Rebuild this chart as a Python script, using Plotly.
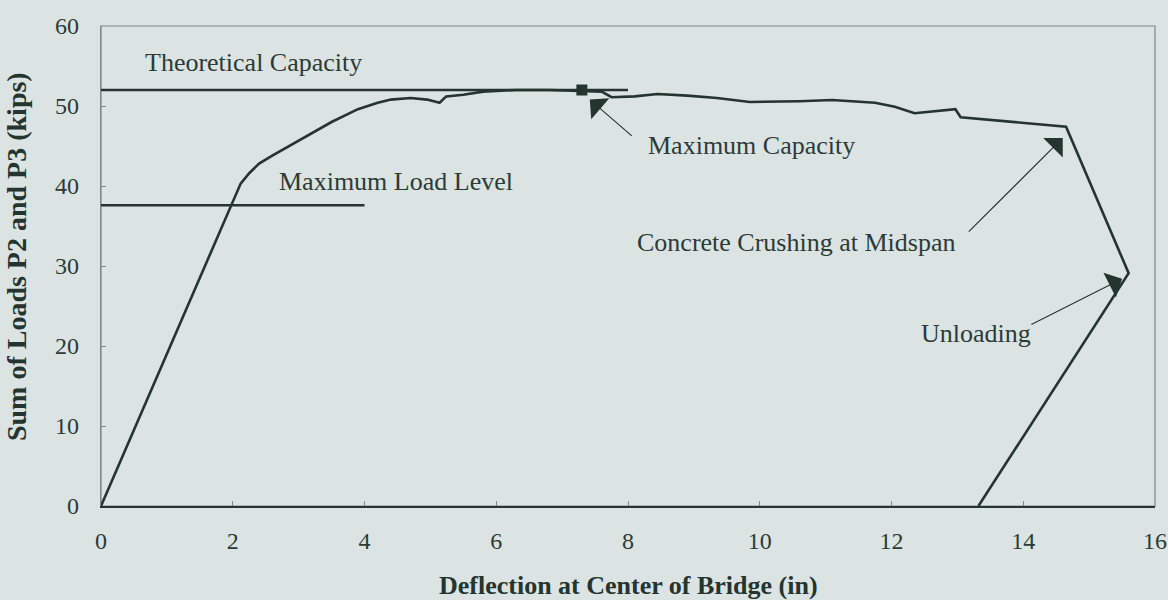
import plotly.graph_objects as go

# Load-deflection response of the bridge test
deflection = [0, 2.12, 2.25, 2.4, 2.6, 2.9, 3.15, 3.5, 3.9, 4.2, 4.4, 4.7, 4.95,
              5.14, 5.24, 5.5, 5.8, 6.3, 6.8, 7.3, 7.6, 7.75, 8.1, 8.45, 8.9,
              9.35, 9.85, 10.6, 11.1, 11.75, 12.05, 12.35, 12.97, 13.05, 14.65,
              15.6, 13.32]
load = [0, 40.3, 41.6, 42.8, 43.8, 45.2, 46.4, 48.0, 49.6, 50.4, 50.8, 51.0, 50.8,
        50.4, 51.2, 51.4, 51.8, 52.0, 52.0, 51.9, 51.8, 51.1, 51.2, 51.5, 51.3,
        51.0, 50.5, 50.6, 50.75, 50.4, 49.9, 49.1, 49.6, 48.6, 47.4,
        29.1, 0]

theoretical_x = [0, 8]
theoretical_y = [52, 52]

max_load_x = [0, 4]
max_load_y = [37.6, 37.6]

peak_x = [7.3]
peak_y = [52]

x_ticks = [0, 2, 4, 6, 8, 10, 12, 14, 16]
y_ticks = [0, 10, 20, 30, 40, 50, 60]

BG = "#dce3e3"
INK = "#24342f"
TEXT = "#2b3b36"
FRAME = "#7d8986"
SERIF = "Liberation Serif, Times New Roman, serif"

fig = go.Figure()

fig.add_trace(go.Scatter(x=theoretical_x, y=theoretical_y, mode="lines",
                         line=dict(color=INK, width=2.6), hoverinfo="skip"))
fig.add_trace(go.Scatter(x=max_load_x, y=max_load_y, mode="lines",
                         line=dict(color=INK, width=2.6), hoverinfo="skip"))
fig.add_trace(go.Scatter(x=deflection, y=load, mode="lines",
                         line=dict(color=INK, width=2.6)))
fig.add_trace(go.Scatter(x=peak_x, y=peak_y, mode="markers",
                         marker=dict(symbol="square", size=11, color=INK)))

# plot frame
fig.add_shape(type="rect", xref="paper", yref="paper", x0=0, y0=0, x1=1, y1=1,
              line=dict(color=FRAME, width=1.2), layer="below")

labels = [
    ("Theoretical Capacity", 2.32, 55.5),
    ("Maximum Load Level", 4.48, 40.6),
    ("Maximum Capacity", 9.87, 45.1),
    ("Concrete Crushing at Midspan", 10.55, 32.9),
    ("Unloading", 13.28, 21.6),
]
for txt, lx, ly in labels:
    fig.add_annotation(x=lx, y=ly, text=txt, showarrow=False,
                       font=dict(family=SERIF, size=26, color=TEXT))

arrows = [
    (7.42, 50.8, 8.08, 46.1),
    (14.6, 46.0, 13.15, 34.1),
    (15.5, 28.4, 14.1, 22.6),
]
for tx, ty, sx, sy in arrows:
    fig.add_annotation(x=tx, y=ty, ax=sx, ay=sy, axref="x", ayref="y",
                       text="", showarrow=True, arrowhead=1, arrowsize=4.2,
                       arrowwidth=1.1, arrowcolor=INK)

# axis titles
fig.add_annotation(xref="paper", yref="paper", x=0.5, y=-0.165,
                   text="<b>Deflection at Center of Bridge (in)</b>",
                   showarrow=False, yanchor="middle",
                   font=dict(family=SERIF, size=26, color=INK))
fig.add_annotation(xref="paper", yref="paper", x=-0.08, y=0.52,
                   text="<b>Sum of Loads P2 and P3 (kips)</b>", textangle=-90,
                   showarrow=False, xanchor="center", yanchor="middle",
                   font=dict(family=SERIF, size=28, color=INK))

fig.update_layout(
    width=1168, height=600,
    margin=dict(l=101, r=13, t=26, b=94, autoexpand=False),
    paper_bgcolor=BG, plot_bgcolor=BG,
    showlegend=False,
    font=dict(family=SERIF, color=TEXT),
)

fig.update_xaxes(
    range=[0, 16], tickvals=x_ticks, ticktext=[str(v) for v in x_ticks],
    showgrid=False, zeroline=False, automargin=False,
    showline=True, linecolor=INK, linewidth=2,
    ticks="inside", ticklen=5, tickcolor=FRAME,
    tickfont=dict(family=SERIF, size=24, color=TEXT),
    ticklabelstandoff=12,
)
fig.update_yaxes(
    range=[0, 60], tickvals=y_ticks, ticktext=[str(v) for v in y_ticks],
    showgrid=False, zeroline=False, automargin=False,
    showline=True, linecolor=FRAME, linewidth=1.2,
    ticks="inside", ticklen=5, tickcolor=FRAME,
    tickfont=dict(family=SERIF, size=24, color=TEXT),
    ticklabelstandoff=16,
)

fig.write_html("out.html")
